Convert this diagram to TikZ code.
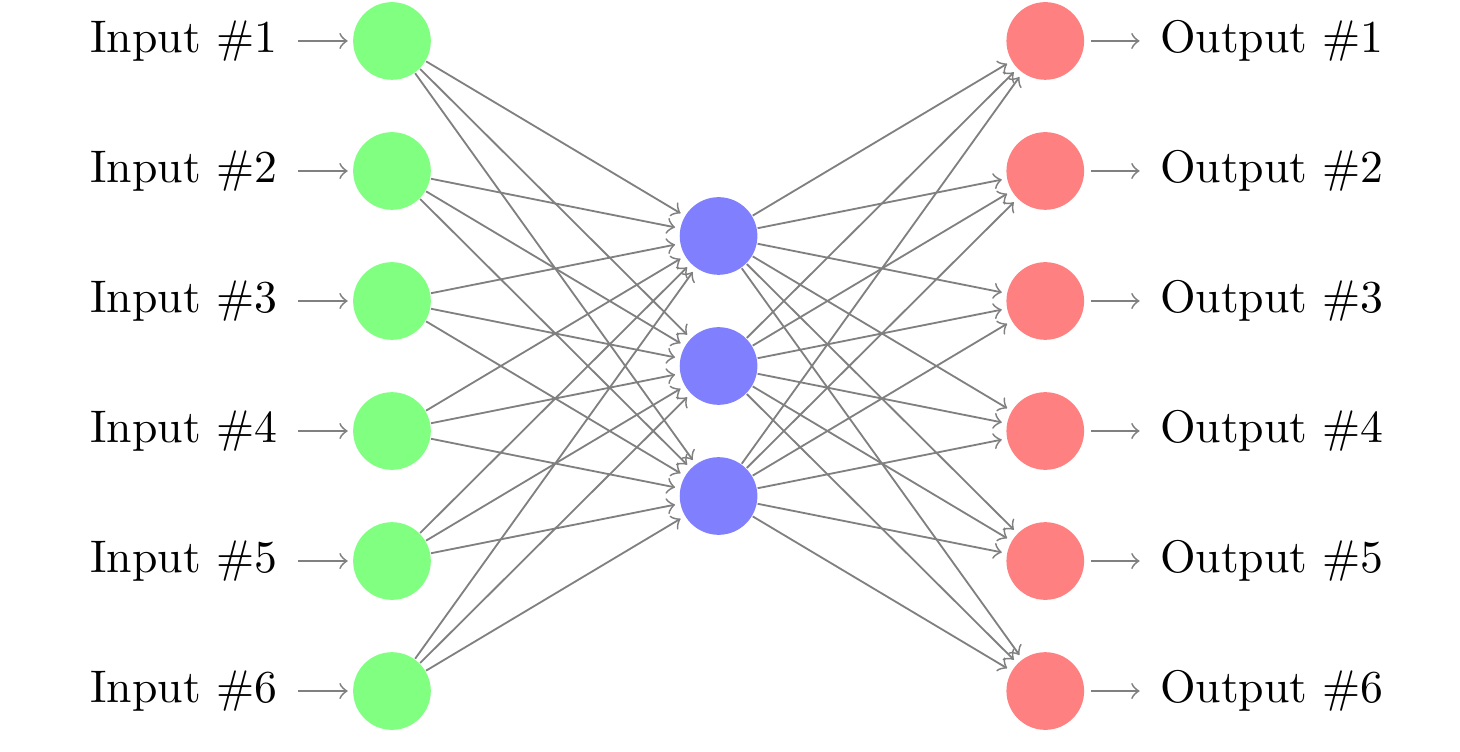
\documentclass[tikz,border=0pt]{standalone}
\begin{document}
\begin{tikzpicture}[shorten >=1pt,->,draw=black!50,x=1cm,y=1cm]
\useasboundingbox (-3.015,0.315) rectangle (8.215,-5.469);
\tikzset{
  every pin edge/.style={<-,shorten <=1pt,draw=black!50},
  neuron/.style={circle,fill=black!25,minimum size=17pt,inner sep=0pt,draw=none},
  input neuron/.style={neuron,fill=green!50},
  output neuron/.style={neuron,fill=red!50},
  hidden neuron/.style={neuron,fill=blue!50},
  conn/.style={->,shorten >=1pt,draw=black!50}
}
\foreach \y in {1,...,6}
  \node[input neuron, pin=left:Input \#\y] (I-\y) at (0,-\y+1) {};
\foreach \y in {1,...,3}
  \node[hidden neuron] (H-\y) at (2.512,-\y-0.5) {};
\foreach \y in {1,...,6}
  \node[output neuron, pin={[pin edge={->,shorten >=1pt,shorten <=1.3pt}]right:Output \#\y}] (O-\y) at (5.025,-\y+1) {};
\foreach \s in {1,...,6}
  \foreach \d in {1,...,3}
    \draw[conn] (I-\s) -- (H-\d);
\foreach \s in {1,...,3}
  \foreach \d in {1,...,6}
    \draw[conn] (H-\s) -- (O-\d);
\end{tikzpicture}
\end{document}
